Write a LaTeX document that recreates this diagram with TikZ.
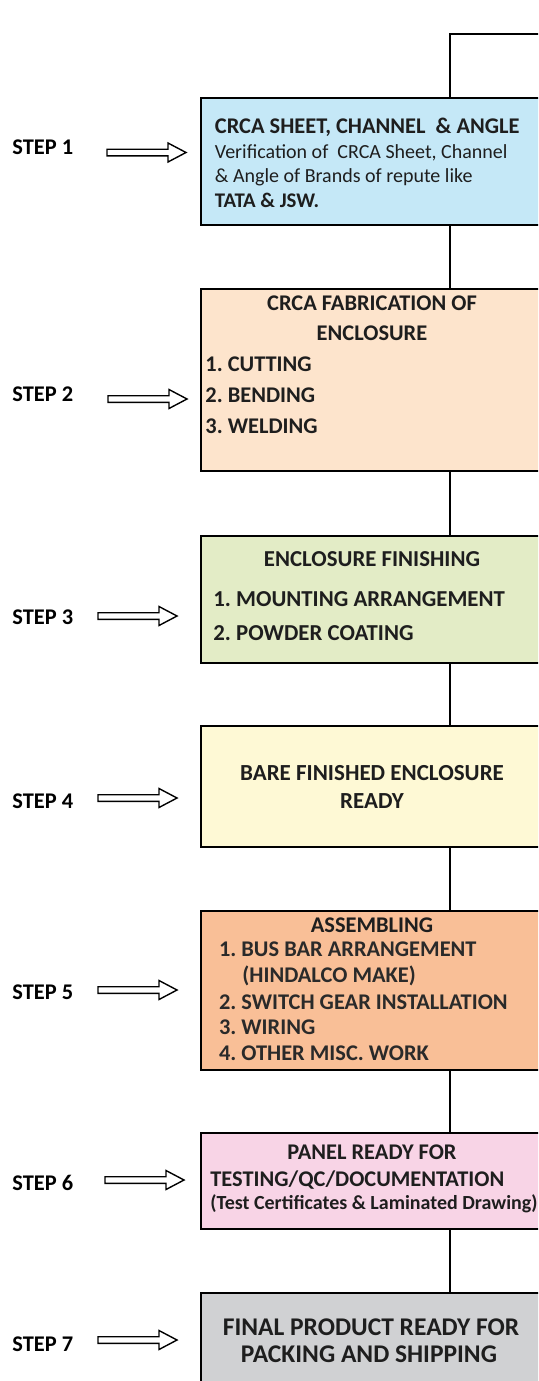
\documentclass[tikz,border=0pt]{standalone}
\usepackage{fontspec}
\setmainfont{Carlito}
\frenchspacing
\definecolor{cBlue}{HTML}{C5E8F7}
\definecolor{cPeach}{HTML}{FDE4CC}
\definecolor{cGreen}{HTML}{E3ECC6}
\definecolor{cYellow}{HTML}{FEF9D5}
\definecolor{cSalmon}{HTML}{F9BF97}
\definecolor{cPink}{HTML}{F8D4E6}
\definecolor{cGray}{HTML}{D0D1D3}
\definecolor{txt}{HTML}{1E1E1E}
\definecolor{txtg}{HTML}{2A2A2A}
\begin{document}
\begin{tikzpicture}[x=0.5pt,y=-0.5pt,
  stagebox/.style={draw=black, line width=1pt, rectangle, inner sep=0pt,
    minimum width=172pt},
  conn/.style={draw=black, line width=1pt},
  hd/.style={inner sep=0pt, text=txt, font=\bfseries\fontsize{11.2}{13}\selectfont},
  hdl/.style={hd, anchor=base west},
  hdc/.style={hd, anchor=base},
  rg/.style={inner sep=0pt, anchor=base west, text=txt, font=\fontsize{10}{12}\selectfont},
  steplbl/.style={inner sep=0pt, anchor=base west, text=black, font=\bfseries\fontsize{11.2}{13}\selectfont},
  hollowarrow/.pic={\draw[line width=0.7pt, fill=white] (0,-3.3) -- (61,-3.3) -- (61,-9.5) -- (79,0) -- (61,9.5) -- (61,3.3) -- (0,3.3) -- cycle;}
]
\useasboundingbox (0,0) rectangle (538,1381);
\fill[white] (0,0) rectangle (538,1381);
\clip (0,0) rectangle (538,1381);

% stage boxes
\node[stagebox, fill=cBlue,   minimum height=63.5pt] (b1) at (373,161.5) {};
\node[stagebox, fill=cPeach,  minimum height=91pt]   (b2) at (373,380) {};
\node[stagebox, fill=cGreen,  minimum height=63.5pt] (b3) at (373,599.5) {};
\node[stagebox, fill=cYellow, minimum height=60.5pt] (b4) at (373,786.5) {};
\node[stagebox, fill=cSalmon, minimum height=79.5pt] (b5) at (373,990.5) {};
\node[stagebox, fill=cPink,   minimum height=48pt]   (b6) at (373,1181) {};
\node[stagebox, fill=cGray,   minimum height=53.5pt] (b7) at (373,1346.5) {};

% connectors
\coordinate (vx) at (450,0);
\coordinate (topc) at (450,34);
\coordinate (topr) at (545,34);
\draw[conn] (b1.north -| vx) -- (topc) -- (topr);
\draw[conn] (b1.south -| vx) -- (b2.north -| vx);
\draw[conn] (b2.south -| vx) -- (b3.north -| vx);
\draw[conn] (b3.south -| vx) -- (b4.north -| vx);
\draw[conn] (b4.south -| vx) -- (b5.north -| vx);
\draw[conn] (b5.south -| vx) -- (b6.north -| vx);
\draw[conn] (b6.south -| vx) -- (b7.north -| vx);

% box 1 text
\node[hdl] (t1a) at (214.5,133) {CRCA SHEET, CHANNEL\ \ \& ANGLE};
\node[rg] (t1b) at (214.5,158) {Verification of\ \ CRCA Sheet, Channel};
\node[rg] (t1c) at (214.5,182.5) {\& Angle of Brands of repute like};
\node[rg, font=\bfseries\fontsize{10.4}{12}\selectfont] (t1d) at (214.5,207) {TATA \& JSW.};

% box 2 text
\node[hdc] (t2a) at (372,310) {CRCA FABRICATION OF};
\node[hdc] (t2b) at (372,340) {ENCLOSURE};
\node[hdl] (t2c) at (205,371) {1. CUTTING};
\node[hdl] (t2d) at (205,402) {2. BENDING};
\node[hdl] (t2e) at (205,433) {3. WELDING};

% box 3 text
\node[hdc, font=\bfseries\fontsize{11.4}{13}\selectfont] (t3a) at (372,566.7) {ENCLOSURE FINISHING};
\node[hdl, font=\bfseries\fontsize{11.4}{13}\selectfont] (t3b) at (213,606.7) {1. MOUNTING ARRANGEMENT};
\node[hdl, font=\bfseries\fontsize{11.4}{13}\selectfont] (t3c) at (213,640.7) {2. POWDER COATING};

% box 4 text
\node[hdc, font=\bfseries\fontsize{11.5}{13}\selectfont] (t4a) at (372,780.7) {BARE FINISHED ENCLOSURE};
\node[hdc, font=\bfseries\fontsize{11.5}{13}\selectfont] (t4b) at (372,808.3) {READY};

% box 5 text
\node[hdc] (t5a) at (372,932.7) {ASSEMBLING};
\node[hdl, text=txtg] (t5b) at (218.6,956.7) {1. BUS BAR ARRANGEMENT};
\node[hdl, text=txtg] (t5c) at (242,982.7) {(HINDALCO MAKE)};
\node[hdl, text=txtg] (t5d) at (218.6,1009) {2. SWITCH GEAR INSTALLATION};
\node[hdl, text=txtg] (t5e) at (218.6,1034) {3. WIRING};
\node[hdl, text=txtg] (t5f) at (218.6,1060) {4. OTHER MISC. WORK};

% box 6 text
\node[hdc] (t6a) at (372,1159.3) {PANEL READY FOR};
\node[hdl] (t6b) at (210,1186.7) {TESTING/QC/DOCUMENTATION};
\node[hdl, font=\bfseries\fontsize{10}{12}\selectfont] (t6c) at (210,1209.5) {(Test Certificates \& Laminated Drawing)};

% box 7 text
\node[hdc, font=\bfseries\fontsize{12.75}{15}\selectfont] (t7a) at (371,1335) {FINAL PRODUCT READY FOR};
\node[hdc, font=\bfseries\fontsize{12.75}{15}\selectfont] (t7b) at (369,1362.7) {PACKING AND SHIPPING};

% step labels
\node[steplbl] (s1) at (12,154) {STEP 1};
\node[steplbl] (s2) at (12,401) {STEP 2};
\node[steplbl] (s3) at (12,624.3) {STEP 3};
\node[steplbl] (s4) at (12,808.3) {STEP 4};
\node[steplbl] (s5) at (12,999) {STEP 5};
\node[steplbl] (s6) at (12,1190.7) {STEP 6};
\node[steplbl] (s7) at (12,1351) {STEP 7};

% hollow step arrows
\pic at (107,152.5) {hollowarrow};
\pic at (108,399) {hollowarrow};
\pic at (98,616) {hollowarrow};
\pic at (98,798) {hollowarrow};
\pic at (98,990) {hollowarrow};
\pic at (105,1180) {hollowarrow};
\pic at (98,1340) {hollowarrow};
\end{tikzpicture}
\end{document}
